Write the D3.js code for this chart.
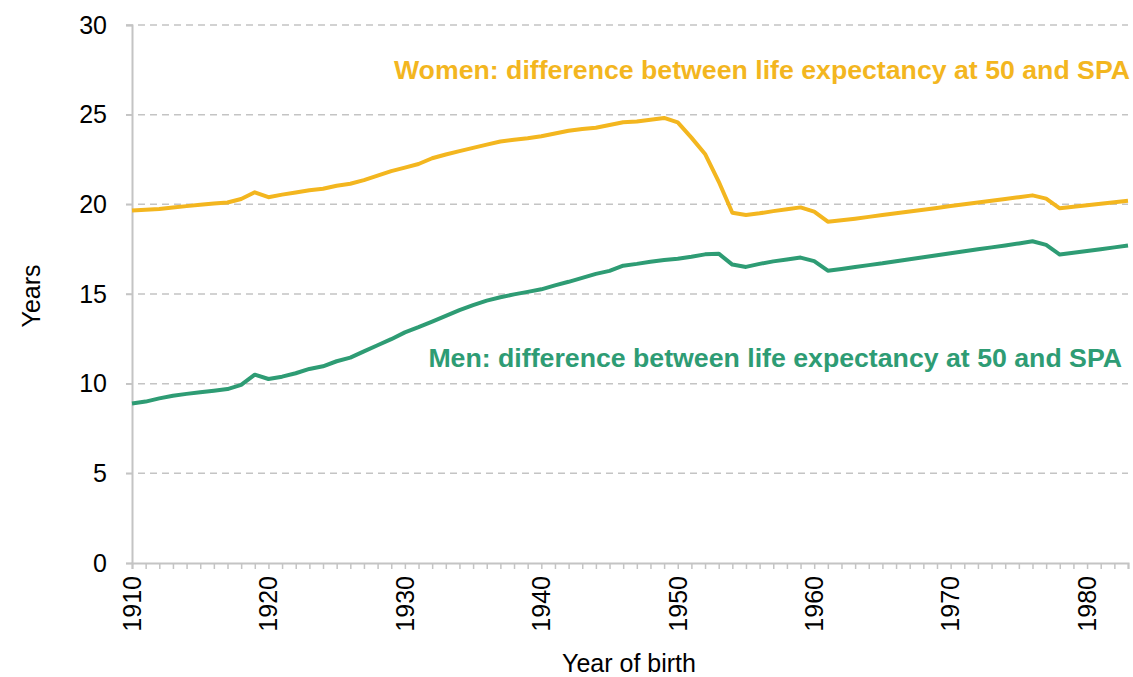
<!DOCTYPE html>
<html>
<head>
<meta charset="utf-8">
<script src="https://cdn.jsdelivr.net/npm/d3@7"></script>
<style>
  body { margin: 0; background: #fff; }
  text { font-family: "Liberation Sans", Arial, sans-serif; }
</style>
</head>
<body>
<svg id="chart"></svg>
<script>
// data
const years = d3.range(1910, 1984);
const women = [
  19.65, 19.70, 19.74, 19.82, 19.90, 19.98, 20.04, 20.10, 20.30, 20.67,
  20.40, 20.54, 20.66, 20.78, 20.87, 21.04, 21.15, 21.35, 21.60, 21.85,
  22.05, 22.25, 22.57, 22.78, 22.97, 23.15, 23.33, 23.50, 23.60, 23.68,
  23.80, 23.95, 24.10, 24.20, 24.27, 24.42, 24.58, 24.62, 24.72, 24.82,
  24.57, 23.72, 22.81, 21.27, 19.53, 19.41, 19.50, 19.62, 19.73, 19.83,
  19.59, 19.03, 19.11, 19.20, 19.30, 19.40, 19.50, 19.60, 19.70, 19.80,
  19.91, 20.00, 20.10, 20.20, 20.30, 20.40, 20.50, 20.32, 19.78, 19.86,
  19.95, 20.03, 20.12, 20.20
];
const men = [
  8.89, 9.00, 9.18, 9.33, 9.43, 9.52, 9.61, 9.70, 9.93, 10.50,
  10.26, 10.39, 10.58, 10.82, 10.97, 11.25, 11.45, 11.80, 12.14, 12.48,
  12.86, 13.15, 13.46, 13.78, 14.10, 14.38, 14.63, 14.82, 14.98, 15.12,
  15.26, 15.48, 15.68, 15.90, 16.12, 16.29, 16.58, 16.68, 16.80, 16.89,
  16.97, 17.08, 17.21, 17.25, 16.64, 16.51, 16.68, 16.82, 16.92, 17.03,
  16.83, 16.30, 16.40, 16.50, 16.61, 16.71, 16.83, 16.94, 17.05, 17.16,
  17.27, 17.38, 17.49, 17.60, 17.71, 17.82, 17.94, 17.74, 17.20, 17.30,
  17.40, 17.50, 17.60, 17.70
];
const yTicks = [0, 5, 10, 15, 20, 25, 30];
const xTicks = [1910, 1920, 1930, 1940, 1950, 1960, 1970, 1980];
const seriesLabels = [
  "Women: difference between life expectancy at 50 and SPA",
  "Men: difference between life expectancy at 50 and SPA"
];

const width = 1133, height = 677;
const margin = {top: 25, right: 5, bottom: 114, left: 132};
const colors = {women: "#F3B61F", men: "#2E9C74"};
const fontSize = 25;

const svg = d3.select("#chart")
    .attr("width", width)
    .attr("height", height);

const innerW = width - margin.left - margin.right;
const innerH = height - margin.top - margin.bottom;

const chart = svg.append("g")
    .attr("transform", `translate(${margin.left}, ${margin.top})`);

const xScale = d3.scaleLinear().domain([1910, 1983]).range([0, innerW]);
const yScale = d3.scaleLinear().domain([0, 30]).range([innerH, 0]);

// gridlines
chart.append("g")
    .selectAll("line")
    .data(yTicks.filter(d => d > 0))
    .join("line")
    .attr("x1", -6)
    .attr("x2", innerW)
    .attr("y1", d => yScale(d))
    .attr("y2", d => yScale(d))
    .attr("stroke", "#c4c4c4")
    .attr("stroke-width", 1.5)
    .attr("stroke-dasharray", "7,5");

// y axis
const yAxis = d3.axisLeft(yScale).tickValues(yTicks).tickSize(6).tickPadding(19);
const yAxisGroup = chart.append("g").call(yAxis);
yAxisGroup.select(".domain").attr("stroke", "#c4c4c4").attr("stroke-width", 2);
yAxisGroup.selectAll(".tick line").attr("stroke", "#c4c4c4").attr("stroke-width", 1.5);
yAxisGroup.selectAll(".tick text")
    .attr("font-size", fontSize)
    .attr("fill", "#000")
    .style("font-family", "Liberation Sans, Arial, sans-serif");

// x axis: minor ticks every year
const xAxis = d3.axisBottom(xScale).tickValues(years).tickSize(6).tickFormat("");
const xAxisGroup = chart.append("g")
    .attr("transform", `translate(0, ${innerH})`)
    .call(xAxis);
xAxisGroup.select(".domain").attr("stroke", "#c4c4c4").attr("stroke-width", 2);
xAxisGroup.selectAll(".tick line").attr("stroke", "#c4c4c4").attr("stroke-width", 1.5);

// x tick labels, rotated
chart.append("g")
    .selectAll("text")
    .data(xTicks)
    .join("text")
    .attr("transform", d => `translate(${xScale(d)}, ${innerH + 13}) rotate(-90)`)
    .attr("text-anchor", "end")
    .attr("dy", "0.35em")
    .attr("font-size", fontSize)
    .attr("fill", "#000")
    .text(d => d);

// axis titles
svg.append("text")
    .attr("x", margin.left + innerW / 2 - 1)
    .attr("y", 672)
    .attr("text-anchor", "middle")
    .attr("font-size", fontSize)
    .attr("fill", "#000")
    .text("Year of birth");

svg.append("text")
    .attr("transform", `translate(31, ${margin.top + innerH / 2 + 2}) rotate(-90)`)
    .attr("text-anchor", "middle")
    .attr("dy", "0.35em")
    .attr("font-size", fontSize)
    .attr("fill", "#000")
    .text("Years");

// lines
const line = d3.line()
    .x((d, i) => xScale(years[i]))
    .y(d => yScale(d));

chart.append("path")
    .datum(women)
    .attr("fill", "none")
    .attr("stroke", colors.women)
    .attr("stroke-width", 4)
    .attr("stroke-linejoin", "round")
    .attr("d", line);

chart.append("path")
    .datum(men)
    .attr("fill", "none")
    .attr("stroke", colors.men)
    .attr("stroke-width", 4)
    .attr("stroke-linejoin", "round")
    .attr("d", line);

// series labels
svg.append("text")
    .attr("x", 1130)
    .attr("y", 79)
    .attr("text-anchor", "end")
    .attr("font-size", 26.7)
    .attr("font-weight", "bold")
    .attr("fill", colors.women)
    .text(seriesLabels[0]);

svg.append("text")
    .attr("x", 1122)
    .attr("y", 367)
    .attr("text-anchor", "end")
    .attr("font-size", 26.7)
    .attr("font-weight", "bold")
    .attr("fill", colors.men)
    .text(seriesLabels[1]);
</script>
</body>
</html>
